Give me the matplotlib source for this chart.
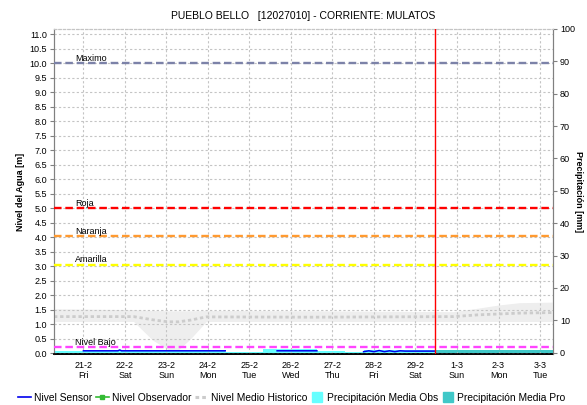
import matplotlib
matplotlib.use("Agg")
import matplotlib.pyplot as plt
import matplotlib.dates as mdates
from matplotlib.lines import Line2D
import numpy as np
import pandas as pd

plt.rcParams["font.family"] = ["Liberation Sans", "DejaVu Sans"]

# station / title
title = "PUEBLO BELLO   [12027010] - CORRIENTE: MULATOS"

# view window and current time
t_start = pd.Timestamp("2020-02-20 07:00")
t_end = pd.Timestamp("2020-03-03 07:30")
t_now = pd.Timestamp("2020-02-29 11:30")

# alert thresholds [m]
umbral_nombres = ["Maximo", "Roja", "Naranja", "Amarilla", "Nivel Bajo"]
umbral_valores = [10.0, 5.0, 4.03, 3.05, 0.2]
umbral_colores = ["#7c82a8", "#ff0000", "#ff9a30", "#ffff00", "#ff44ff"]

# historical mean level (band + mean line)
hist_t = ["2020-02-20 07:00", "2020-02-22 05:00", "2020-02-22 16:00", "2020-02-23 01:00",
          "2020-02-23 07:00", "2020-02-23 14:00", "2020-02-23 23:00", "2020-02-26 12:00",
          "2020-02-29 22:00", "2020-03-01 12:00", "2020-03-02 00:00", "2020-03-02 12:00",
          "2020-03-03 07:30"]
hist_media = [1.26, 1.26, 1.15, 1.08, 1.08, 1.14, 1.25, 1.24, 1.26, 1.32, 1.35, 1.38, 1.40]
hist_min = [1.09, 1.09, 0.45, 0.12, 0.12, 0.5, 1.09, 1.09, 1.09, 1.09, 1.09, 1.09, 1.09]
hist_max = [1.53, 1.50, 1.47, 1.46, 1.46, 1.46, 1.47, 1.46, 1.43, 1.55, 1.66, 1.74, 1.76]

# sensor level [m] (nan = no data)
sensor_t = ["2020-02-21 00:00", "2020-02-21 20:00", "2020-02-21 21:00", "2020-02-21 22:00",
            "2020-02-24 10:00", "2020-02-24 11:00", "2020-02-25 16:00", "2020-02-26 15:00",
            "2020-02-26 16:00", "2020-02-27 18:00", "2020-02-27 21:00", "2020-02-28 00:00",
            "2020-02-28 03:00", "2020-02-28 06:00", "2020-02-28 09:00", "2020-02-28 12:00",
            "2020-02-28 15:00", "2020-02-28 18:00", "2020-02-29 00:00", "2020-02-29 11:00"]
sensor_nivel = [0.08, 0.08, 0.11, 0.08, 0.08, np.nan, 0.08, 0.08, np.nan, 0.05,
                0.08, 0.05, 0.09, 0.05, 0.08, 0.05, 0.08, 0.07, 0.07, 0.07]

# observed / forecast mean precipitation [mm]
pobs_t = ["2020-02-20 07:00", "2020-02-24 10:00", "2020-02-25 08:00", "2020-02-26 15:00",
          "2020-02-27 07:00", "2020-02-27 18:00", "2020-02-29 11:30"]
pobs_mm = [0.5, 0.3, 1.0, 0.6, 0.2, 0.9, 0.9]
ppro_t = ["2020-02-29 11:30", "2020-03-03 07:30"]
ppro_mm = [0.7, 0.7]

hist_t = pd.to_datetime(hist_t)
sensor_t = pd.to_datetime(sensor_t)
pobs_t = pd.to_datetime(pobs_t)
ppro_t = pd.to_datetime(ppro_t)

fig = plt.figure(figsize=(5.87, 4.05), dpi=100)
ax = fig.add_axes([54 / 587, 1 - 354 / 405, 499 / 587, 325 / 405])
ax2 = ax.twinx()
ax.set_zorder(ax2.get_zorder() + 1)
ax.patch.set_visible(False)

# precipitation on the right axis
ax2.fill_between(pobs_t, pobs_mm, step="post", color="#66ffff", lw=0)
ax2.fill_between(ppro_t, ppro_mm, step="post", color="#40c8c8", lw=0)
ax2.set_ylim(-0.4, 100)
ax2.set_yticks(np.arange(0, 101, 10))

# historical band and mean
ax.fill_between(hist_t, hist_min, hist_max, color="#eeeeee", lw=0, zorder=1)
ax.plot(hist_t, hist_media, color="#cccccc", lw=2.0, ls=(0, (1.2, 1.0)), zorder=2)

# thresholds
for nombre, val, col in zip(umbral_nombres, umbral_valores, umbral_colores):
    ax.axhline(val, color=col, lw=1.7, dashes=(3.2, 1.6), zorder=3)
    ax.text(pd.Timestamp("2020-02-20 19:00"), val + 0.02, nombre, fontsize=6.5,
            va="bottom", ha="left", zorder=4)

ax.plot(sensor_t, sensor_nivel, color="#0000ee", lw=1.1, zorder=5)
ax.axvline(t_now, color="#ff0000", lw=1, zorder=6)

ax.set_xlim(t_start, t_end)
ax.set_ylim(-0.03, 11.18)
ax.set_yticks(np.arange(0, 11.01, 0.5))
ax.yaxis.set_major_formatter(plt.FormatStrFormatter("%.1f"))

dias = pd.date_range("2020-02-21", "2020-03-03", freq="D")
ax.set_xticks(dias)
ax.set_xticklabels([f"{d.day}-{d.month}\n{d.strftime('%a')}" for d in dias])
ax.xaxis.set_minor_locator(mdates.HourLocator())

ax.grid(True, color="#c4c4c4", lw=0.8, ls=(0, (2, 2)))
ax.tick_params(axis="x", which="major", labelsize=6.5, length=0, pad=5)
ax.tick_params(axis="x", which="minor", length=0)
ax.tick_params(axis="y", labelsize=6.5, length=3, pad=2, color="#808080")
ax2.tick_params(axis="y", labelsize=6.5, length=3, pad=2, color="#808080")

for a in (ax, ax2):
    a.spines["left"].set_color("#808080")
    a.spines["right"].set_color("#808080")
    a.spines["top"].set_color("#c4c4c4")
    a.spines["top"].set_linestyle((0, (2, 2)))
    a.spines["bottom"].set_color("#000000")
    a.spines["bottom"].set_linestyle((0, (1, 1)))
    a.spines["bottom"].set_linewidth(1.2)

ax.set_ylabel("Nivel del Agua [m]", fontsize=6.5, fontweight="bold", labelpad=3)
ax2.set_ylabel("Precipitación [mm]", fontsize=6.5, fontweight="bold", rotation=-90,
               labelpad=6)
ax.set_title(title, fontsize=7.5, pad=7)

handles = [
    Line2D([], [], color="#0000ee", lw=1.2),
    Line2D([], [], color="#33bb33", lw=1.2, marker="s", markersize=2.5),
    Line2D([], [], color="#cccccc", lw=2.2, ls=(0, (1.2, 1.0))),
    Line2D([], [], color="#66ffff", lw=0, marker="s", markersize=7),
    Line2D([], [], color="#40c8c8", lw=0, marker="s", markersize=7),
]
labels = ["Nivel Sensor", "Nivel Observador", "Nivel Medio Historico",
          "Precipitación Media Obs", "Precipitación Media Pro"]
fig.legend(handles, labels, loc="lower left", bbox_to_anchor=(0.02, -0.01), ncol=5,
           frameon=False, fontsize=7.4, handlelength=1.3, handletextpad=0.25,
           columnspacing=0.35, borderaxespad=0.2)

fig.savefig("out.png", dpi=100)
